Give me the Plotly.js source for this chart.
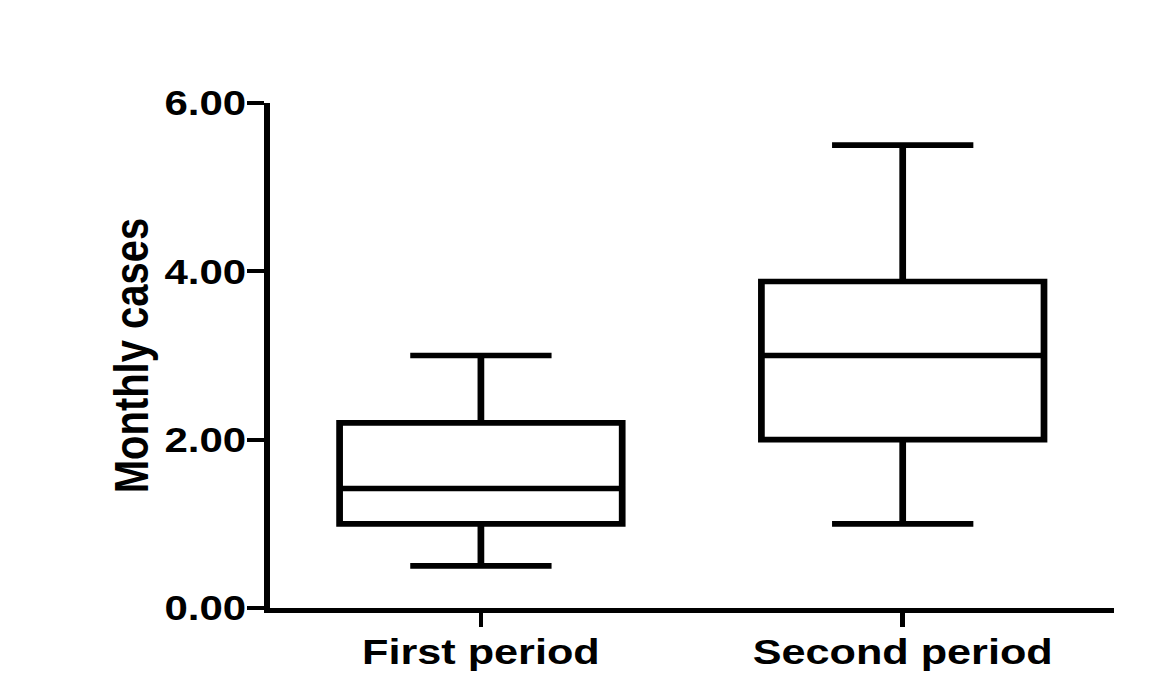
<!DOCTYPE html>
<html>
<head>
<meta charset="utf-8">
<script src="https://cdn.plot.ly/plotly-3.0.1.min.js"></script>
<style>
  html, body { margin: 0; padding: 0; background: #ffffff; overflow: hidden; }
  #wrap { width: 1154px; height: 690px; overflow: hidden; }
  #chart { width: 962px; height: 690px; transform: scaleX(1.2); transform-origin: 0 0; }
</style>
</head>
<body>
<div id="wrap"><div id="chart"></div></div>
<script>
// Data
var categories = ['First period', 'Second period'];
var lowerFence = [0.5, 1.0];
var q1Values = [1.0, 2.0];
var medianValues = [1.42, 3.0];
var q3Values = [2.2, 3.88];
var upperFence = [3.0, 5.5];
var yTickValues = [0, 2, 4, 6];
var yTickLabels = ['0.00', '2.00', '4.00', '6.00'];

var font = 'Liberation Sans, Arial, sans-serif';

var trace = {
  type: 'box',
  x: categories,
  q1: q1Values,
  median: medianValues,
  q3: q3Values,
  lowerfence: lowerFence,
  upperfence: upperFence,
  boxpoints: false,
  width: 0.67,
  whiskerwidth: 0.5,
  fillcolor: '#ffffff',
  line: { color: '#000000', width: 5.6 },
  showlegend: false,
  hoverinfo: 'y'
};

var layout = {
  width: 962,
  height: 690,
  margin: { l: 225, r: 34, t: 103, b: 82 },
  paper_bgcolor: '#ffffff',
  plot_bgcolor: '#ffffff',
  font: { family: font, color: '#000000' },
  xaxis: {
    type: 'category',
    range: [-0.5, 1.5],
    showline: true,
    linecolor: '#000000',
    linewidth: 4.8,
    showgrid: false,
    zeroline: false,
    ticks: 'outside',
    ticklen: 14,
    tickwidth: 4,
    tickcolor: '#000000',
    ticklabelstandoff: -6,
    tickfont: { family: font, size: 36, color: '#000000', weight: 'bold' },
    fixedrange: true
  },
  yaxis: {
    range: [0, 6],
    tickvals: yTickValues,
    ticktext: yTickLabels,
    showline: true,
    linecolor: '#000000',
    linewidth: 4.8,
    showgrid: false,
    zeroline: false,
    ticks: 'outside',
    ticklen: 14,
    tickwidth: 4,
    tickcolor: '#000000',
    ticklabelstandoff: -6,
    tickfont: { family: font, size: 35, color: '#000000', weight: 'bold' },
    title: { text: 'Monthly cases', font: { family: font, size: 40, color: '#000000', weight: 'bold' }, standoff: 2 },
    fixedrange: true
  }
};

Plotly.newPlot('chart', [trace], layout, { displayModeBar: false, staticPlot: true });
</script>
</body>
</html>
